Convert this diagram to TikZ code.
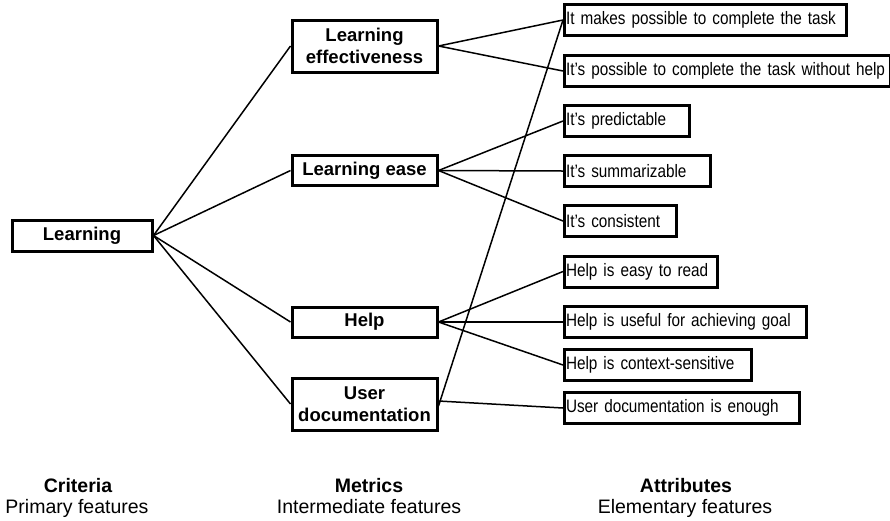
\documentclass[tikz,border=0pt]{standalone}
\usepackage{fontspec}
\setmainfont{Liberation Sans}
\newfontfamily\attrfont[FakeStretch=0.85]{Liberation Sans}
\begin{document}
\begin{tikzpicture}[x=1pt,y=-1pt,
  box/.style={draw=black, line width=3pt, inner sep=0pt, fill=white},
  critbox/.style={box, minimum width=140, minimum height=31,
    font=\bfseries\fontsize{18.5}{22}\selectfont},
  metricbox/.style={box, minimum width=145, align=center,
    font=\bfseries\fontsize{18.5}{22}\selectfont},
  attrbox/.style={box, anchor=west, minimum height=31, align=left,
    inner xsep=1.5pt, font=\attrfont\fontsize{18}{20}\selectfont},
  link/.style={line width=1.5pt},
  caption/.style={anchor=base, inner sep=0pt, font=\fontsize{19.5}{22}\selectfont}
]
\useasboundingbox (0,0) rectangle (890,520);

% criterion
\node[critbox] (crit) at (82,235.5) {Learning};

% metrics
\node[metricbox, minimum height=52] (eff)  at (364.5,46)  {Learning\\effectiveness};
\node[metricbox, minimum height=30] (ease) at (364.5,170.5) {Learning ease};
\node[metricbox, minimum height=30] (help) at (364.5,322) {Help};
\node[metricbox, minimum height=52] (doc)  at (364.5,404) {User\\documentation};

% attributes (each text kept on one line)
\node[attrbox, text width=279] (a1) at (563,20)  {\mbox{It makes possible to complete the task}};
\node[attrbox, text width=323] (a2) at (563,71)  {\mbox{It’s possible to complete the task without help}};
\node[attrbox, text width=122] (a3) at (563,121) {\mbox{It’s predictable}};
\node[attrbox, text width=143] (a4) at (563,171) {\mbox{It’s summarizable}};
\node[attrbox, text width=109] (a5) at (563,221) {\mbox{It’s consistent}};
\node[attrbox, text width=150] (a6) at (563,271.5) {\mbox{Help is easy to read}};
\node[attrbox, text width=239] (a7) at (563,322) {\mbox{Help is useful for achieving goal}};
\node[attrbox, text width=184] (a8) at (563,365) {\mbox{Help is context-sensitive}};
\node[attrbox, text width=232] (a9) at (563,408) {\mbox{User documentation is enough}};

% connectors
\draw[link] (crit.east) -- (eff.west);
\draw[link] (crit.east) -- (ease.west);
\draw[link] (crit.east) -- (help.west);
\draw[link] (crit.east) -- (doc.west);
\draw[link] (eff.east) -- (a1.west);
\draw[link] (eff.east) -- (a2.west);
\draw[link] (ease.east) -- (a3.west);
\draw[link] (ease.east) -- (a4.west);
\draw[link] (ease.east) -- (a5.west);
\draw[link] (help.east) -- (a6.west);
\draw[link] (help.east) -- (a7.west);
\draw[link] (help.east) -- (a8.west);
\draw[link] ([yshift=-2]doc.east) -- (a1.west);
\draw[link] ([yshift=3]doc.east) -- (a9.west);

% column captions
\node[caption, font=\bfseries\fontsize{19.5}{22}\selectfont] (c1) at (78,492) {Criteria};
\node[caption] (c1b) at (77,513) {Primary features};
\node[caption, font=\bfseries\fontsize{19.5}{22}\selectfont] (c2) at (369,492) {Metrics};
\node[caption] (c2b) at (369,513) {Intermediate features};
\node[caption, font=\bfseries\fontsize{19.5}{22}\selectfont] (c3) at (686,492) {Attributes};
\node[caption] (c3b) at (685,513) {Elementary features};
\end{tikzpicture}
\end{document}
